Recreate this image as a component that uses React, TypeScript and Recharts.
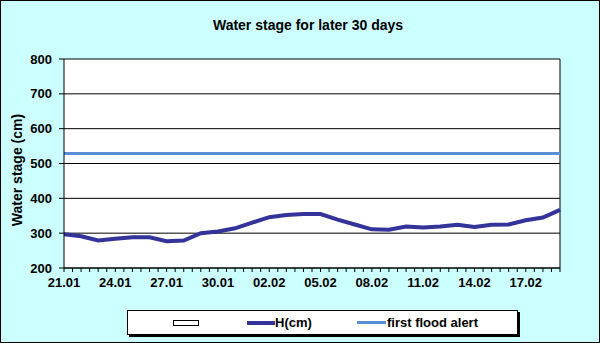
import { LineChart, Line, XAxis, YAxis, CartesianGrid, ReferenceLine } from 'recharts';

const DAYS = [
  '21.01', '22.01', '23.01', '24.01', '25.01', '26.01', '27.01', '28.01', '29.01', '30.01', '31.01',
  '01.02', '02.02', '03.02', '04.02', '05.02', '06.02', '07.02', '08.02', '09.02', '10.02',
  '11.02', '12.02', '13.02', '14.02', '15.02', '16.02', '17.02', '18.02', '19.02',
];

const H_CM = [
  297, 291, 279, 284, 288, 288, 277, 279, 300, 305, 314,
  330, 346, 352, 355, 355, 339, 325, 311, 310, 319,
  316, 319, 324, 318, 324, 325, 337, 345, 367,
];

const FLOOD_ALERT = 529;
const Y_TICKS = [200, 300, 400, 500, 600, 700, 800];

const FONT = '"Liberation Sans", Arial, sans-serif';
const DARK = '#333399';
const LIGHT = '#5A8FD8';

const data = DAYS.map((d, i) => ({ i, day: d, h: H_CM[i] }));
// tick marks every half day, labels every 3rd day
const xTicks = Array.from({ length: DAYS.length * 2 - 1 }, (_, k) => k / 2);

const tickStyle = { fill: '#000', fontSize: 13, fontWeight: 700, fontFamily: FONT };

function ChartLegend() {
  return (
    <div
      style={{
        position: 'absolute', left: 127, top: 310, width: 391, height: 25,
        boxSizing: 'border-box', border: '1px solid #000', background: '#fff',
        boxShadow: '2px 2px 0 #000', fontFamily: FONT, fontSize: 13, fontWeight: 700,
      }}
    >
      <div style={{ position: 'absolute', left: 45, top: 9, width: 26, height: 6, boxSizing: 'border-box', border: '1px solid #000' }} />
      <div style={{ position: 'absolute', left: 119, top: 10, width: 28, height: 4, background: DARK }} />
      <div style={{ position: 'absolute', left: 147, top: 4, lineHeight: '15px' }}>H(cm)</div>
      <div style={{ position: 'absolute', left: 229, top: 10, width: 29, height: 3, background: LIGHT }} />
      <div style={{ position: 'absolute', left: 259, top: 4, lineHeight: '15px' }}>first flood alert</div>
    </div>
  );
}

export default function App() {
  return (
    <div
      style={{
        position: 'fixed', left: 0, top: 0, width: 600, height: 343,
        background: '#CCFFFF', outline: '1px solid #000', outlineOffset: -1,
      }}
    >
      <div
        style={{
          position: 'absolute', left: 0, width: 616, top: 18, textAlign: 'center',
          fontFamily: FONT, fontSize: 14, fontWeight: 700, lineHeight: '15px',
        }}
      >
        Water stage for later 30 days
      </div>
      <div
        style={{
          position: 'absolute', left: 16.5, top: 170, transform: 'translate(-50%, -50%) rotate(-90deg)',
          whiteSpace: 'nowrap', fontFamily: FONT, fontSize: 14, fontWeight: 700, lineHeight: '15px',
        }}
      >
        Water stage (cm)
      </div>
      <LineChart width={600} height={343} data={data} margin={{ top: 59, right: 40, bottom: 45, left: 0 }}>
        <CartesianGrid vertical={false} stroke="#000" fill="#fff" fillOpacity={1} />
        <XAxis
          dataKey="i"
          type="number"
          domain={[0, DAYS.length - 1]}
          ticks={xTicks}
          interval={0}
          height={30}
          tickSize={4}
          tickMargin={6}
          axisLine={{ stroke: '#000' }}
          tickLine={{ stroke: '#000' }}
          tick={tickStyle}
          tickFormatter={(v: number) => (Number.isInteger(v) && v % 3 === 0 ? DAYS[v] : '')}
        />
        <YAxis
          domain={[200, 800]}
          ticks={Y_TICKS}
          width={64}
          tickSize={5}
          tickMargin={7}
          axisLine={{ stroke: '#000' }}
          tickLine={{ stroke: '#000' }}
          tick={tickStyle}
        />
        <ReferenceLine x={DAYS.length - 1} stroke="#000" />
        <ReferenceLine y={FLOOD_ALERT} stroke={LIGHT} strokeWidth={3} />
        <Line
          type="linear"
          dataKey="h"
          stroke={DARK}
          strokeWidth={4}
          dot={false}
          isAnimationActive={false}
        />
      </LineChart>
      <ChartLegend />
    </div>
  );
}
